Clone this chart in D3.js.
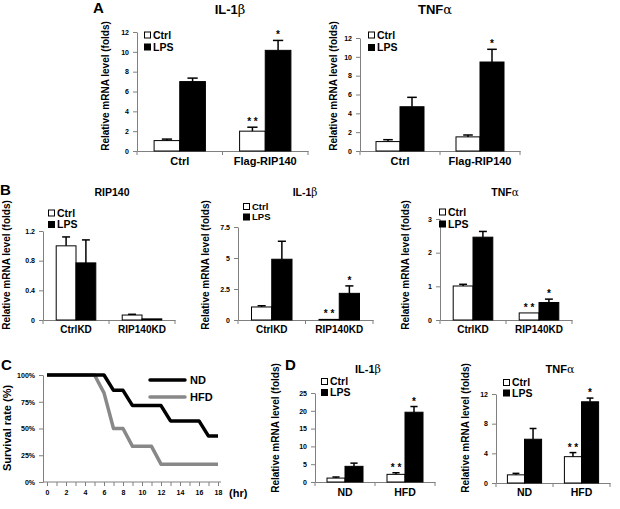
<!DOCTYPE html>
<html>
<head>
<meta charset="utf-8">
<script src="https://cdn.jsdelivr.net/npm/d3@7"></script>
<style>
    body { margin: 0; background: #fff; }
    svg { display: block; font-family: "Liberation Sans", Arial, sans-serif; font-weight: bold; }
    .axis path, .axis line { stroke: #808080; }
    .axis text { fill: #000; font-size: 7px; font-weight: bold; font-family: "Liberation Sans", Arial, sans-serif; }
</style>
</head>
<body>
<svg id="fig" width="620" height="509"></svg>
<script>
    'use strict';

    // ---- data ----
    var catsA = ['Ctrl', 'Flag-RIP140'],
        catsB = ['CtrlKD', 'RIP140KD'],
        catsD = ['ND', 'HFD'];

    // A, IL-1b
    var aIl1bCtrl = [1.05, 2.0], aIl1bCtrlErr = [0.15, 0.4],
        aIl1bLps = [7.0, 10.15], aIl1bLpsErr = [0.35, 1.0],
        aIl1bCtrlSig = ['', '**'], aIl1bLpsSig = ['', '*'],
        ticksA1 = [0, 2, 4, 6, 8, 10, 12];
    // A, TNFa
    var aTnfCtrl = [1.0, 1.5], aTnfCtrlErr = [0.2, 0.2],
        aTnfLps = [4.7, 9.45], aTnfLpsErr = [1.0, 1.35],
        aTnfCtrlSig = ['', ''], aTnfLpsSig = ['', '*'],
        ticksA2 = [0, 2, 4, 6, 8, 10, 12];

    // B, RIP140
    var bRipCtrl = [1.0, 0.067], bRipCtrlErr = [0.12, 0.01],
        bRipLps = [0.77, 0.015], bRipLpsErr = [0.31, 0],
        bRipCtrlSig = ['', ''], bRipLpsSig = ['', ''],
        ticksB1 = [0, 0.4, 0.8, 1.2];
    // B, IL-1b
    var bIl1bCtrl = [1.05, 0.05], bIl1bCtrlErr = [0.1, 0],
        bIl1bLps = [4.9, 2.15], bIl1bLpsErr = [1.45, 0.6],
        bIl1bCtrlSig = ['', '**'], bIl1bLpsSig = ['', '*'],
        ticksB2 = [0, 2.5, 5, 7.5];
    // B, TNFa
    var bTnfCtrl = [1.01, 0.21], bTnfCtrlErr = [0.05, 0],
        bTnfLps = [2.46, 0.52], bTnfLpsErr = [0.17, 0.1],
        bTnfCtrlSig = ['', '**'], bTnfLpsSig = ['', '*'],
        ticksB3 = [0, 1, 2, 3];

    // C, survival (%)
    var hours = [0, 1, 2, 3, 4, 5, 6, 7, 8, 9, 10, 11, 12, 13, 14, 15, 16, 17, 18],
        survivalND = [100, 100, 100, 100, 100, 100, 100, 85.7, 85.7, 71.4, 71.4, 71.4, 71.4, 57.1, 57.1, 57.1, 57.1, 42.9, 42.9],
        survivalHFD = [100, 100, 100, 100, 100, 100, 83.3, 50, 50, 33.3, 33.3, 33.3, 16.7, 16.7, 16.7, 16.7, 16.7, 16.7, 16.7],
        hourLabels = [0, 2, 4, 6, 8, 10, 12, 14, 16, 18],
        ticksC = [0, 25, 50, 75, 100];

    // D, IL-1b
    var dIl1bCtrl = [1.1, 2.15], dIl1bCtrlErr = [0.3, 0.45],
        dIl1bLps = [4.4, 19.6], dIl1bLpsErr = [0.9, 1.6],
        dIl1bCtrlSig = ['', '**'], dIl1bLpsSig = ['', '*'],
        ticksD1 = [0, 5, 10, 15, 20, 25];
    // D, TNFa
    var dTnfCtrl = [1.1, 3.55], dTnfCtrlErr = [0.2, 0.55],
        dTnfLps = [5.9, 10.95], dTnfLpsErr = [1.45, 0.5],
        dTnfCtrlSig = ['', '**'], dTnfLpsSig = ['', '*'],
        ticksD2 = [0, 4, 8, 12];

    var YLABEL = 'Relative mRNA level (folds)';

    var svg = d3.select('#fig');

    function panelLetter(t, x, y) {
        svg.append('text')
            .attr('x', x).attr('y', y)
            .attr('font-size', 15)
            .text(t);
    }

    function rotatedLabel(t, cx, cy, size) {
        svg.append('text')
            .attr('transform', `translate(${cx},${cy}) rotate(-90)`)
            .attr('text-anchor', 'middle')
            .attr('dy', '0.35em')
            .attr('font-size', size)
            .text(t);
    }

    function title(parts, x, y, size) {
        var t = svg.append('text')
            .attr('x', x).attr('y', y)
            .attr('text-anchor', 'middle')
            .attr('font-size', size);
        t.append('tspan').text(parts[0]);
        if (parts[1]) {
            t.append('tspan')
                .attr('font-family', '"DejaVu Serif", "Liberation Serif", serif')
                .attr('font-weight', 'normal')
                .text(parts[1]);
        }
    }

    function legend(x, y, gap, size) {
        var items = [['Ctrl', '#fff'], ['LPS', '#000']];
        items.forEach((it, i) => {
            var cy = y + i * gap;
            svg.append('rect')
                .attr('x', x + 0.5).attr('y', cy - 3)
                .attr('width', 6).attr('height', 6)
                .attr('fill', it[1]).attr('stroke', '#000');
            svg.append('text')
                .attr('x', x + 9).attr('y', cy + size * 0.36)
                .attr('font-size', size)
                .text(it[0]);
        });
    }

    function barPanel(p) {
        var g = svg.append('g');
        var x = d3.scaleBand().domain(p.cats).range([p.x0, p.x1]),
            y = d3.scaleLinear().domain([0, d3.max(p.ticks)]).range([p.yBot, p.yTop]),
            bw = x.bandwidth() * 0.3,
            sub = d3.scaleBand().domain(['ctrl', 'lps']).range([-bw, bw]);

        g.append('g')
            .attr('class', 'axis')
            .attr('transform', `translate(${p.x0},0)`)
            .call(d3.axisLeft(y).tickValues(p.ticks).tickFormat(d => d)
                .tickSize(4).tickSizeOuter(0).tickPadding(4));

        var xa = g.append('g')
            .attr('class', 'axis')
            .attr('transform', `translate(0,${p.yBot})`)
            .call(d3.axisBottom(x).tickSize(0).tickSizeOuter(0).tickPadding(p.catPad));
        xa.selectAll('.tick text').style('font-size', p.catSize + 'px');
        // category boundary ticks
        xa.selectAll('line.bound')
            .data(p.cats.map(c => x(c)).concat([p.x1]))
            .join('line')
            .attr('class', 'bound')
            .attr('x1', d => d).attr('x2', d => d)
            .attr('y1', 0).attr('y2', 4);

        var series = [
            {key: 'ctrl', vals: p.ctrl, err: p.ctrlErr, sig: p.ctrlSig, fill: '#fff'},
            {key: 'lps', vals: p.lps, err: p.lpsErr, sig: p.lpsSig, fill: '#000'}
        ];

        series.forEach(s => {
            var cx = c => x(c) + x.bandwidth() / 2 + sub(s.key) + sub.bandwidth() / 2;
            var sg = g.append('g');
            sg.selectAll('rect')
                .data(p.cats)
                .join('rect')
                .attr('x', c => x(c) + x.bandwidth() / 2 + sub(s.key))
                .attr('y', (c, i) => y(s.vals[i]))
                .attr('width', sub.bandwidth())
                .attr('height', (c, i) => y(0) - y(s.vals[i]))
                .attr('fill', s.fill)
                .attr('stroke', '#000')
                .attr('stroke-width', 1);

            // upper error bars only
            p.cats.forEach((c, i) => {
                var e = s.err[i];
                if (!e) {
                    return;
                }
                var top = y(s.vals[i] + e),
                    half = sub.bandwidth() * 0.2;
                sg.append('line')
                    .attr('x1', cx(c)).attr('x2', cx(c))
                    .attr('y1', y(s.vals[i])).attr('y2', top)
                    .attr('stroke', '#000').attr('stroke-width', 1.5);
                sg.append('line')
                    .attr('x1', cx(c) - half).attr('x2', cx(c) + half)
                    .attr('y1', top).attr('y2', top)
                    .attr('stroke', '#000').attr('stroke-width', 1.5);
            });

            // significance marks
            sg.selectAll('text.sig')
                .data(p.cats)
                .join('text')
                .attr('class', 'sig')
                .attr('x', c => cx(c))
                .attr('y', (c, i) => y(s.vals[i] + s.err[i]) - 2)
                .attr('text-anchor', 'middle')
                .attr('font-size', 10)
                .text((c, i) => s.sig[i].split('').join(' '));
        });

        title(p.title, p.titleX, p.titleY, p.titleSize);
        legend(p.legX, p.legY, p.legGap, p.legSize);
        rotatedLabel(YLABEL, p.labelX, p.labelY, 10);
    }

    // ---- A ----
    panelLetter('A', 93, 13);
    barPanel({
        cats: catsA, ticks: ticksA1,
        ctrl: aIl1bCtrl, ctrlErr: aIl1bCtrlErr, lps: aIl1bLps, lpsErr: aIl1bLpsErr,
        ctrlSig: aIl1bCtrlSig, lpsSig: aIl1bLpsSig,
        x0: 137, x1: 308, yTop: 32, yBot: 151, catSize: 11, catPad: 6,
        title: ['IL-1', 'β'], titleX: 230, titleY: 14, titleSize: 13,
        legX: 144, legY: 35, legGap: 12, legSize: 10.5,
        labelX: 105, labelY: 86
    });
    barPanel({
        cats: catsA, ticks: ticksA2,
        ctrl: aTnfCtrl, ctrlErr: aTnfCtrlErr, lps: aTnfLps, lpsErr: aTnfLpsErr,
        ctrlSig: aTnfCtrlSig, lpsSig: aTnfLpsSig,
        x0: 360, x1: 520, yTop: 38, yBot: 151, catSize: 11, catPad: 6,
        title: ['TNF', 'α'], titleX: 435, titleY: 14, titleSize: 13,
        legX: 368, legY: 35, legGap: 12.5, legSize: 10.5,
        labelX: 333, labelY: 86
    });

    // ---- B ----
    panelLetter('B', 0, 195);
    barPanel({
        cats: catsB, ticks: ticksB1,
        ctrl: bRipCtrl, ctrlErr: bRipCtrlErr, lps: bRipLps, lpsErr: bRipLpsErr,
        ctrlSig: bRipCtrlSig, lpsSig: bRipLpsSig,
        x0: 43, x1: 175, yTop: 231, yBot: 320, catSize: 10, catPad: 6,
        title: ['RIP140', ''], titleX: 112, titleY: 196, titleSize: 10.5,
        legX: 48, legY: 213, legGap: 11.5, legSize: 10.5,
        labelX: 6, labelY: 265
    });
    barPanel({
        cats: catsB, ticks: ticksB2,
        ctrl: bIl1bCtrl, ctrlErr: bIl1bCtrlErr, lps: bIl1bLps, lpsErr: bIl1bLpsErr,
        ctrlSig: bIl1bCtrlSig, lpsSig: bIl1bLpsSig,
        x0: 238, x1: 373, yTop: 227, yBot: 320, catSize: 10, catPad: 6,
        title: ['IL-1', 'β'], titleX: 305, titleY: 196, titleSize: 10.5,
        legX: 243, legY: 206.5, legGap: 10.5, legSize: 9.5,
        labelX: 205, labelY: 265
    });
    barPanel({
        cats: catsB, ticks: ticksB3,
        ctrl: bTnfCtrl, ctrlErr: bTnfCtrlErr, lps: bTnfLps, lpsErr: bTnfLpsErr,
        ctrlSig: bTnfCtrlSig, lpsSig: bTnfLpsSig,
        x0: 440, x1: 572, yTop: 219, yBot: 320, catSize: 10, catPad: 6,
        title: ['TNF', 'α'], titleX: 505, titleY: 196, titleSize: 10.5,
        legX: 439, legY: 212, legGap: 12, legSize: 10.5,
        labelX: 405, labelY: 265
    });

    // ---- C ----
    panelLetter('C', 1, 370);
    (function() {
        var x = d3.scaleLinear().domain([0, 18]).range([47, 218]),
            y = d3.scaleLinear().domain([0, 100]).range([482, 375]);

        svg.append('g')
            .attr('class', 'axis')
            .attr('transform', 'translate(43,0)')
            .call(d3.axisLeft(y).tickValues(ticksC).tickFormat(d => d + '%')
                .tickSize(4).tickSizeOuter(0).tickPadding(4));

        var xa = svg.append('g')
            .attr('class', 'axis')
            .attr('transform', 'translate(0,482)')
            .call(d3.axisBottom(x).tickValues(hours)
                .tickFormat(d => hourLabels.indexOf(d) >= 0 ? d : '')
                .tickSize(4).tickSizeOuter(0).tickPadding(4));
        xa.select('.domain').attr('d', 'M43,0H221');

        var line = d3.line()
            .x((d, i) => x(hours[i]))
            .y(d => y(d));

        [[survivalHFD, '#888'], [survivalND, '#000']].forEach(s => {
            svg.append('path')
                .datum(s[0])
                .attr('d', line)
                .attr('fill', 'none')
                .attr('stroke', s[1])
                .attr('stroke-width', 3.5)
                .attr('stroke-linejoin', 'round');
        });

        // legend
        [['ND', '#000', 380], ['HFD', '#888', 397]].forEach(l => {
            svg.append('line')
                .attr('x1', 150).attr('x2', 185)
                .attr('y1', l[2]).attr('y2', l[2])
                .attr('stroke', l[1]).attr('stroke-width', 3.5)
                .attr('stroke-linecap', 'round');
            svg.append('text')
                .attr('x', 190).attr('y', l[2] + 4)
                .attr('font-size', 11)
                .text(l[0]);
        });

        svg.append('text')
            .attr('x', 229).attr('y', 497)
            .attr('font-size', 11)
            .text('(hr)');
        rotatedLabel('Survival rate (%)', 7, 428, 11);
    })();

    // ---- D ----
    panelLetter('D', 285, 370);
    barPanel({
        cats: catsD, ticks: ticksD1,
        ctrl: dIl1bCtrl, ctrlErr: dIl1bCtrlErr, lps: dIl1bLps, lpsErr: dIl1bLpsErr,
        ctrlSig: dIl1bCtrlSig, lpsSig: dIl1bLpsSig,
        x0: 315, x1: 435, yTop: 393, yBot: 482, catSize: 10.5, catPad: 7,
        title: ['IL-1', 'β'], titleX: 368, titleY: 373, titleSize: 11,
        legX: 321, legY: 381.5, legGap: 11, legSize: 10.5,
        labelX: 275, labelY: 428
    });
    barPanel({
        cats: catsD, ticks: ticksD2,
        ctrl: dTnfCtrl, ctrlErr: dTnfCtrlErr, lps: dTnfLps, lpsErr: dTnfLpsErr,
        ctrlSig: dTnfCtrlSig, lpsSig: dTnfLpsSig,
        x0: 496, x1: 610, yTop: 394, yBot: 483, catSize: 10.5, catPad: 6,
        title: ['TNF', 'α'], titleX: 560, titleY: 373, titleSize: 11,
        legX: 503, legY: 382.5, legGap: 10.5, legSize: 10.5,
        labelX: 465, labelY: 428
    });
</script>
</body>
</html>
